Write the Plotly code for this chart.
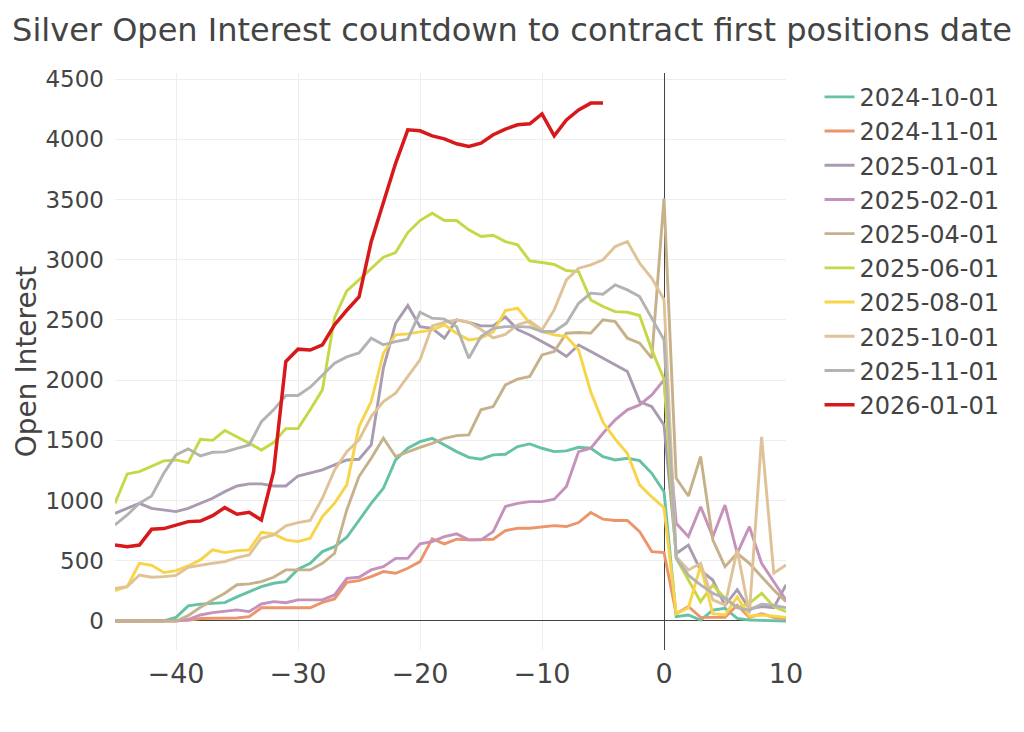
import plotly.graph_objects as go

days = list(range(-45, 11))

contracts = ["2024-10-01", "2024-11-01", "2025-01-01", "2025-02-01", "2025-04-01",
             "2025-06-01", "2025-08-01", "2025-10-01", "2025-11-01", "2026-01-01"]

oi_2024_10 = [0, 0, 0, 0, 0,
              30, 125, 140, 147, 152, 200, 244, 285, 313, 327,
              429, 479, 576, 617, 695, 839, 977, 1102, 1337, 1434,
              1489, 1517, 1462, 1406, 1359, 1343, 1379, 1384, 1448, 1470,
              1434, 1406, 1412, 1442, 1434, 1365, 1337, 1351, 1331, 1226,
              1074, 36, 50, 8, 91, 105, 22, 8, 5, 0, 0]
oi_2024_11 = [0, 0, 0, 0, 0,
              0, 5, 20, 20, 20, 25, 36, 110, 110, 110,
              110, 110, 155, 183, 320, 335, 368, 410, 396, 438,
              493, 682, 640, 679, 673, 673, 679, 750, 770, 770,
              784, 792, 784, 817, 900, 845, 834, 834, 742, 576,
              568, 60, 120, 30, 30, 30, 130, 30, 60, 30, 20]
oi_2025_01 = [894, 935, 977, 935, 921,
              908, 935, 977, 1019, 1074, 1121, 1138, 1138, 1121, 1121,
              1204, 1226, 1254, 1296, 1337, 1343, 1462, 2100, 2472, 2619,
              2444, 2430, 2348, 2500, 2480, 2450, 2450, 2525, 2420, 2375,
              2320, 2265, 2196, 2292, 2237, 2182, 2126, 2071, 1822, 1780,
              1628, 560, 630, 420, 340, 130, 260, 100, 120, 110, 300]
oi_2025_02 = [0, 0, 0, 0, 0,
              0, 12, 50, 69, 83, 92, 78, 141, 161, 152,
              175, 175, 175, 216, 354, 363, 424, 451, 520, 520,
              640, 659, 700, 723, 673, 673, 742, 950, 977, 991,
              991, 1011, 1116, 1406, 1434, 1559, 1670, 1753, 1794, 1877,
              2002, 811, 700, 949, 700, 963, 561, 783, 479, 326, 174]
oi_2025_04 = [0, 0, 0, 0, 0,
              0, 44, 114, 175, 230, 301, 308, 327, 363, 424,
              424, 424, 479, 562, 922, 1199, 1351, 1517, 1365, 1406,
              1442, 1475, 1517, 1539, 1545, 1753, 1780, 1960, 2008, 2030,
              2209, 2237, 2389, 2395, 2390, 2500, 2486, 2348, 2307, 2182,
              3510, 1185, 1038, 1365, 673, 451, 562, 478, 368, 257, 161]
oi_2025_06 = [977, 1221, 1240, 1282, 1329,
              1337, 1315, 1509, 1500, 1581, 1531, 1476, 1420, 1481, 1597,
              1597, 1753, 1919, 2520, 2740, 2832, 2929, 3021, 3059, 3225,
              3325, 3386, 3325, 3325, 3248, 3192, 3203, 3150, 3123, 2990,
              2976, 2960, 2910, 2901, 2666, 2611, 2569, 2563, 2536, 2251,
              2008, 521, 340, 160, 299, 188, 110, 147, 230, 119, 77]
oi_2025_08 = [252, 285, 479, 462, 402,
              418, 457, 507, 590, 568, 584, 590, 737, 723, 673,
              659, 687, 867, 978, 1130, 1614, 1822, 2223, 2376, 2384,
              2403, 2417, 2459, 2389, 2334, 2348, 2400, 2577, 2597, 2472,
              2403, 2376, 2362, 2250, 1900, 1650, 1510, 1390, 1130, 1030,
              940, 60, 110, 460, 60, 50, 200, 40, 50, 40, 30]
oi_2025_10 = [271, 285, 382, 363, 368,
              379, 446, 465, 479, 493, 526, 548, 687, 715, 790,
              817, 834, 1020, 1254, 1406, 1503, 1697, 1822, 1891, 2030,
              2168, 2450, 2480, 2500, 2480, 2420, 2350, 2380, 2460, 2490,
              2417, 2583, 2832, 2929, 2957, 2999, 3109, 3151, 2971, 2846,
              2670, 534, 424, 479, 175, 133, 590, 64, 1528, 396, 465]
oi_2025_11 = [797, 880, 977, 1038, 1227,
              1379, 1429, 1370, 1401, 1404, 1434, 1462, 1655, 1753, 1872,
              1872, 1941, 2043, 2140, 2193, 2226, 2348, 2293, 2320, 2340,
              2563, 2514, 2506, 2444, 2182, 2362, 2430, 2444, 2444, 2440,
              2403, 2403, 2472, 2638, 2722, 2713, 2791, 2749, 2694, 2514,
              2334, 520, 380, 300, 230, 190, 110, 90, 140, 130, 110]
oi_2026_01 = [630, 617, 630, 761, 767,
              797, 825, 830, 875, 941, 886, 902, 839, 1240, 2154,
              2257, 2250, 2292, 2460, 2580, 2690, 3150, 3480, 3800, 4078,
              4070, 4028, 4003, 3962, 3940, 3968, 4037, 4084, 4120, 4128,
              4211, 4028, 4161, 4244, 4300, 4300]

series = [oi_2024_10, oi_2024_11, oi_2025_01, oi_2025_02, oi_2025_04,
          oi_2025_06, oi_2025_08, oi_2025_10, oi_2025_11, oi_2026_01]

colors = ["rgb(102,194,165)", "rgb(236,148,106)", "rgb(169,155,177)", "rgb(197,146,188)",
          "rgb(198,177,139)", "rgb(199,216,70)", "rgb(248,212,72)", "rgb(223,194,152)",
          "rgb(179,179,179)", "rgb(215,25,28)"]

fig = go.Figure()
for name, vals, col in zip(contracts, series, colors):
    is_last = name == "2026-01-01"
    fig.add_trace(go.Scatter(
        x=days[:len(vals)], y=vals, mode="lines", name=name,
        line=dict(color=col, width=3.5 if is_last else 2.9),
    ))

fig.update_layout(
    template="none",
    width=1024, height=732,
    font=dict(family="DejaVu Sans, Verdana, sans-serif", color="#444", size=22),
    title=dict(text="Silver Open Interest countdown to contract first positions date",
               x=0.5, xanchor="center", y=1 - 30 / 732, yanchor="middle",
               font=dict(size=32, color="#444")),
    margin=dict(l=115, r=238, t=73, b=82),
    plot_bgcolor="white", paper_bgcolor="white",
    showlegend=True,
    legend=dict(x=1.05, xanchor="left", y=0.997, yanchor="top",
                font=dict(size=24, color="#444")),
    xaxis=dict(range=[-45, 10], dtick=10, showgrid=True, gridcolor="#eee",
               zeroline=True, zerolinecolor="#444", zerolinewidth=1,
               tickfont=dict(size=27), showline=False, ticks="",
               ticklabelstandoff=5),
    yaxis=dict(range=[-241, 4550], dtick=500, showgrid=True, gridcolor="#eee",
               zeroline=True, zerolinecolor="#444", zerolinewidth=1,
               tickfont=dict(size=23), showline=False, ticks="",
               ticklabelstandoff=10,
               title=dict(text="Open Interest", font=dict(size=28))),
)

fig.write_html("out.html", config={"displayModeBar": False},
               post_script="document.body.style.margin='0px';")
